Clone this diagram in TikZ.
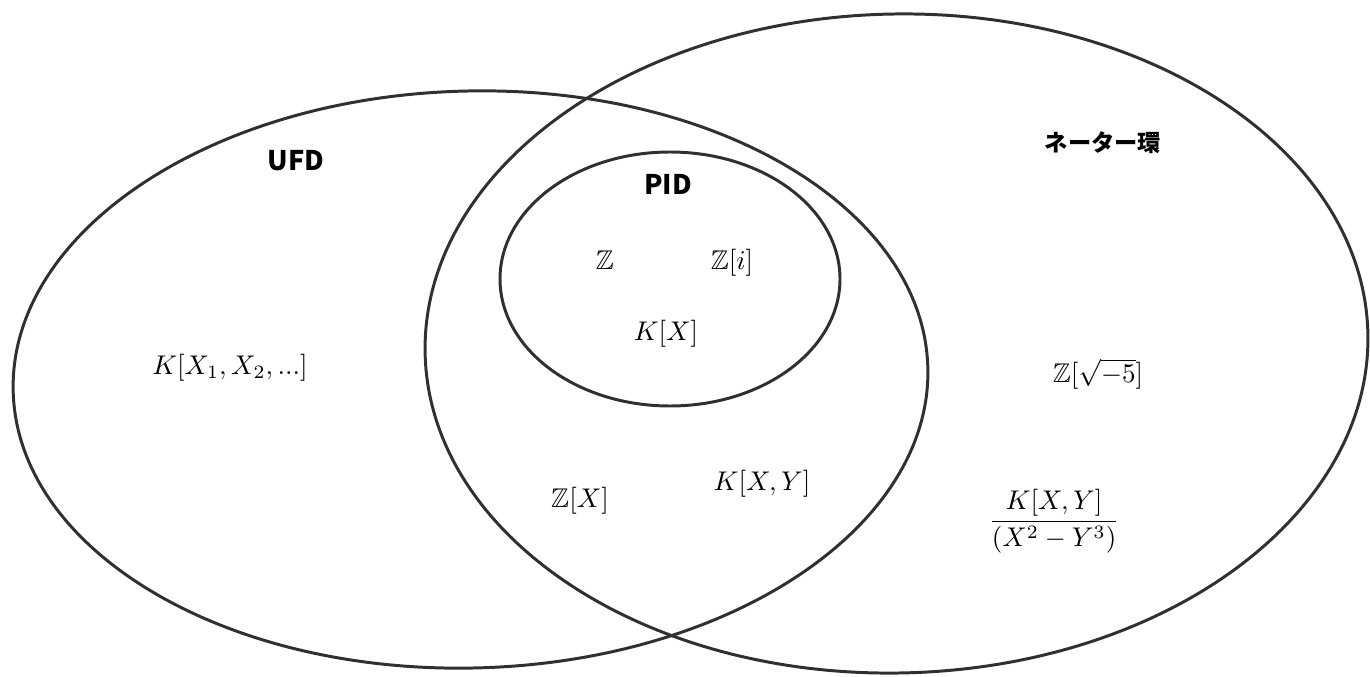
\documentclass[tikz,border=0pt]{standalone}
\usepackage{amsmath}
\usepackage{amssymb}
\usepackage{fontspec}
\newfontfamily\cjk{Noto Sans CJK JP}
\definecolor{ink}{HTML}{303030}
\begin{document}
\begin{tikzpicture}[x=0.37pt,y=-0.37pt,
  setline/.style={draw=ink,line width=1.1pt},
  setlabel/.style={font=\cjk\bfseries\fontsize{10}{12}\selectfont,text=black,inner sep=0pt},
  jplabel/.style={font=\cjk\bfseries\fontsize{8.6}{10}\selectfont,text=black,inner sep=0pt},
  ring/.style={anchor=base,inner sep=0pt,font=\fontsize{10}{12}\selectfont}]
\useasboundingbox (0,0) rectangle (1370,677);
% sets
\draw[setline,rotate around={1.5:(470.5,379.5)}] (470.5,379.5) ellipse [x radius=457.5, y radius=288.5];
\draw[setline,rotate around={1.2:(896.5,343.5)}] (896.5,343.5) ellipse [x radius=471.5, y radius=329.5];
\draw[setline] (670,279) ellipse [x radius=170, y radius=127];
% labels
\node[setlabel] (ufd) at (296,161) {UFD};
\node[setlabel] (pid) at (668,184) {PID};
\node[jplabel] (noether) at (1103,143) {ネーター環};
% rings
\node[ring] (z) at (605,269) {$\mathbb{Z}$};
\node[ring] (zi) at (732,269) {$\mathbb{Z}[i]$};
\node[ring] (kx) at (666,340) {$K[X]$};
\node[ring] (kinf) at (230,374) {$K[X_1,X_2,...]$};
\node[ring] (zx) at (580,507) {$\mathbb{Z}[X]$};
\node[ring] (kxy) at (762,490) {$K[X,Y]$};
\node[ring] (zs) at (1098,382) {$\mathbb{Z}[\sqrt{-5}]$};
\node[ring] (quot) at (1054,528) {$\dfrac{K[X,Y]}{(X^2-Y^3)}$};
\end{tikzpicture}
\end{document}
